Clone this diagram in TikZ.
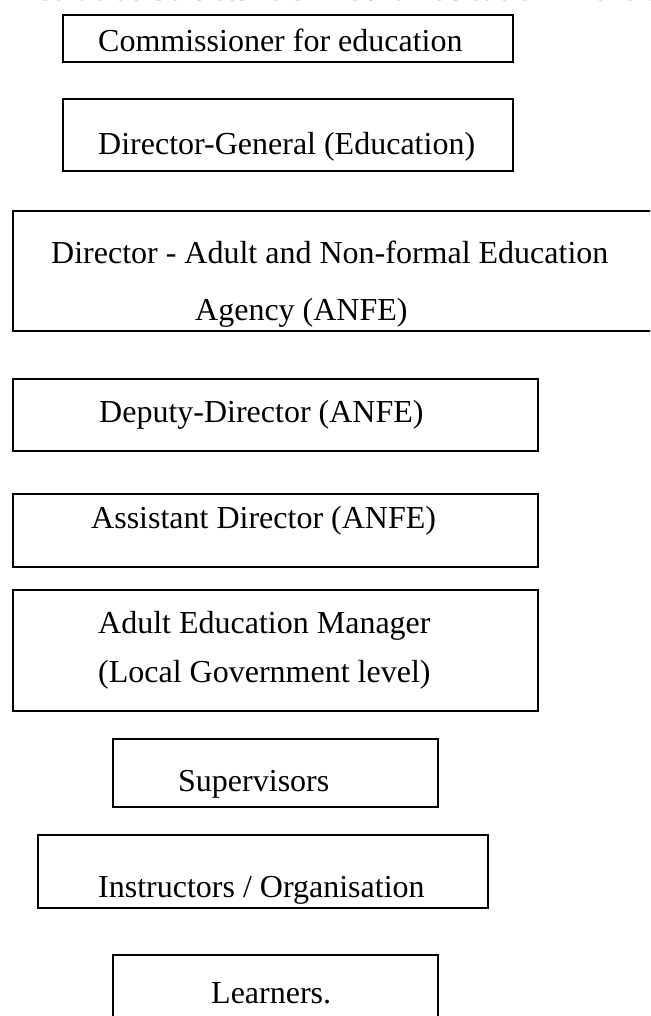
\documentclass[tikz,border=0pt]{standalone}
\usepackage{fontspec}
\setmainfont{Liberation Serif}
\begin{document}
\begin{tikzpicture}[x=1pt,y=-1pt,
  box/.style={draw=black, line width=1.6pt, inner sep=0pt, outer sep=0pt},
  lbl/.style={anchor=base west, inner sep=0pt, font=\fontsize{32}{38}\selectfont},
  head/.style={anchor=base, inner sep=0pt, font=\fontsize{32}{38}\selectfont\bfseries}]
\useasboundingbox (0,0) rectangle (650,1016);
\clip (0,0) rectangle (650,1016);
\fill[white] (0,0) rectangle (650,1016);

% title line, running off the top edge
\node[head, text=black!55] (title) at (325,0.7) {Administrative Structure of Adult Education in the State};

% hierarchy boxes, top to bottom
\node[box, minimum width=450pt, minimum height=47pt]  (b1) at (288,38.5)  {};
\node[box, minimum width=450pt, minimum height=72pt]  (b2) at (288,135)   {};
\node[box, minimum width=647pt, minimum height=120pt] (b3) at (336.5,271) {};
\node[box, minimum width=525pt, minimum height=72pt]  (b4) at (275.5,415) {};
\node[box, minimum width=525pt, minimum height=73pt]  (b5) at (275.5,530.5) {};
\node[box, minimum width=525pt, minimum height=121pt] (b6) at (275.5,650.5) {};
\node[box, minimum width=325pt, minimum height=68pt]  (b7) at (275.5,773) {};
\node[box, minimum width=450pt, minimum height=73pt]  (b8) at (263,871.5) {};
\node[box, minimum width=325pt, minimum height=75pt]  (b9) at (275.5,992.5) {};

% box labels
\node[lbl] (t1)  at (98,51.7)  {Commissioner for education};
\node[lbl] (t2)  at (98,155)   {Director-General (Education)};
\node[lbl] (t3a) at (51,263)   {Director - Adult and Non-formal Education};
\node[lbl] (t3b) at (195,320)  {Agency (ANFE)};
\node[lbl] (t4)  at (99,422)   {Deputy-Director (ANFE)};
\node[lbl] (t5)  at (91,528)   {Assistant Director (ANFE)};
\node[lbl] (t6a) at (98,633)   {Adult Education Manager};
\node[lbl] (t6b) at (98,682)   {(Local Government level)};
\node[lbl] (t7)  at (178,791)  {Supervisors};
\node[lbl] (t8)  at (98,897)   {Instructors / Organisation};
\node[lbl] (t9)  at (211,1003) {Learners.};
\end{tikzpicture}
\end{document}
